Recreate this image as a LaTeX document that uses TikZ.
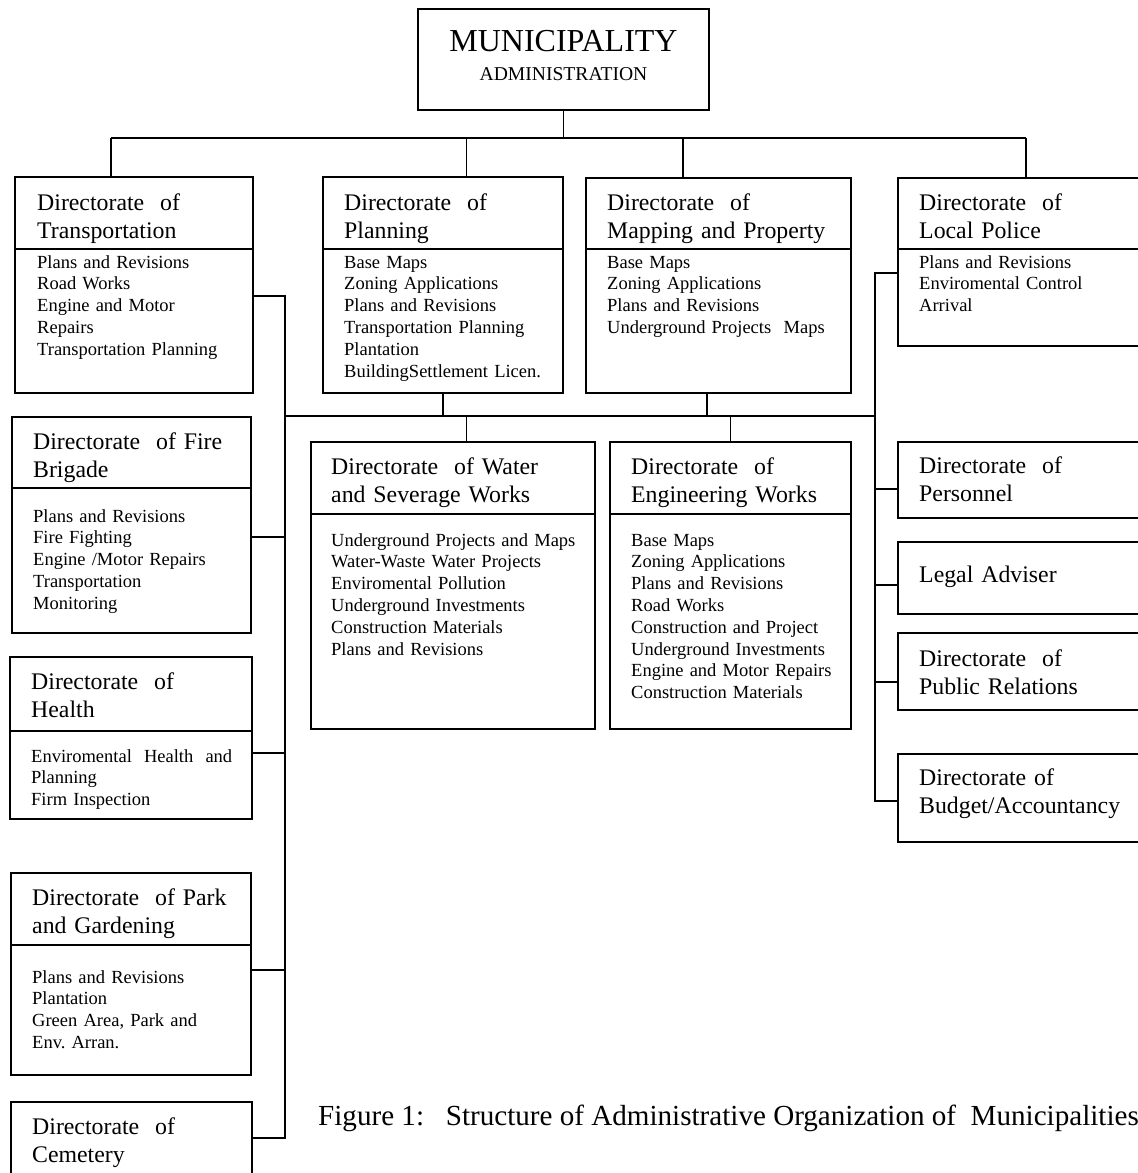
\documentclass[tikz,border=0pt]{standalone}
\usepackage{fontspec}
\setmainfont{Liberation Serif}
\usetikzlibrary{positioning}

\newcommand{\headfont}{\fontsize{23.8}{28}\selectfont}
\newcommand{\listfont}{\fontsize{18.5}{21.8}\selectfont}

\tikzset{
  orgbox/.style={draw, line width=1.8pt, inner sep=0pt, outer sep=0pt},
  headtext/.style={anchor=base west, align=left, text width=300pt, inner sep=0pt, font=\headfont},
  listtext/.style={anchor=base west, align=left, text width=300pt, inner sep=0pt, font=\listfont},
  link/.style={line width=1.8pt}
}

% box by its edges: name, left, top, right, bottom
\newcommand{\dirbox}[5]{%
  \node[orgbox, minimum width={#4-#2}, minimum height={#5-#3}] (#1) at ({(#2+#4)/2},{(#3+#5)/2}) {};}
% line under the box title
\newcommand{\divider}[2]{%
  \draw[link] ([yshift=-#2pt]#1.north west) -- ([yshift=-#2pt]#1.north east);}

\begin{document}
\begin{tikzpicture}[x=1pt, y=-1pt]
\useasboundingbox (0,0) rectangle (1138,1173);

% top
\dirbox{muni}{418}{9}{709}{110}
\node[anchor=base, inner sep=0pt, font=\fontsize{32}{38}\selectfont] (muniA) at ([yshift=-42pt]muni.north) {MUNICIPALITY};
\node[anchor=base, inner sep=0pt, font=\fontsize{19.6}{24}\selectfont] (muniB) at ([yshift=-71pt]muni.north) {ADMINISTRATION};

% first row
\dirbox{trans}{15}{177}{253}{393}
\dirbox{plan}{323}{177}{563}{393}
\dirbox{map}{586}{178}{851}{393}
\dirbox{police}{898}{178}{1141}{346}
\divider{trans}{72}
\divider{plan}{72}
\divider{map}{71}
\divider{police}{71}

% second row
\dirbox{water}{311}{442}{595}{729}
\dirbox{eng}{610}{442}{851}{729}
\divider{water}{72}
\divider{eng}{72}

% left column
\dirbox{fire}{12}{417}{251}{633}
\dirbox{health}{10}{657}{252}{819}
\dirbox{park}{11}{873}{251}{1075}
\dirbox{cem}{11}{1102}{252}{1185}
\divider{fire}{71}
\divider{health}{74}
\divider{park}{72}

% right column
\dirbox{pers}{898}{442}{1141}{518}
\dirbox{legal}{898}{542}{1141}{614}
\dirbox{pr}{898}{633}{1141}{710}
\dirbox{budget}{898}{754}{1141}{842}

% titles
\node[headtext] (muniT) at ([xshift=22pt,yshift=-33pt]trans.north west) {Directorate~ of\\Transportation};
\node[headtext] (planT) at ([xshift=21pt,yshift=-33pt]plan.north west) {Directorate~ of\\Planning};
\node[headtext] (mapT) at ([xshift=21pt,yshift=-32pt]map.north west) {Directorate~ of\\Mapping and Property};
\node[headtext] (policeT) at ([xshift=21pt,yshift=-32pt]police.north west) {Directorate~ of\\Local Police};
\node[headtext] (waterT) at ([xshift=20pt,yshift=-32pt]water.north west) {Directorate~ of Water\\and Severage Works};
\node[headtext] (engT) at ([xshift=21pt,yshift=-32pt]eng.north west) {Directorate~ of\\Engineering Works};
\node[headtext] (fireT) at ([xshift=21pt,yshift=-32pt]fire.north west) {Directorate~ of Fire\\Brigade};
\node[headtext] (healthT) at ([xshift=21pt,yshift=-32pt]health.north west) {Directorate~ of\\Health};
\node[headtext] (parkT) at ([xshift=21pt,yshift=-32pt]park.north west) {Directorate~ of Park\\and Gardening};
\node[headtext] (cemT) at ([xshift=21pt,yshift=-32pt]cem.north west) {Directorate~ of\\Cemetery};
\node[headtext] (persT) at ([xshift=21pt,yshift=-31pt]pers.north west) {Directorate~ of\\Personnel};
\node[headtext] (legalT) at ([xshift=21pt,yshift=-40pt]legal.north west) {Legal Adviser};
\node[headtext] (prT) at ([xshift=21pt,yshift=-33pt]pr.north west) {Directorate~ of\\Public Relations};
\node[headtext] (budgetT) at ([xshift=21pt,yshift=-31pt]budget.north west) {Directorate of\\Budget/Accountancy};

% task lists
\node[listtext] (transL) at ([xshift=22pt,yshift=-91pt]trans.north west) {Plans and Revisions\\Road Works\\Engine and Motor\\Repairs\\Transportation Planning};
\node[listtext] (planL) at ([xshift=21pt,yshift=-91pt]plan.north west) {Base Maps\\Zoning Applications\\Plans and Revisions\\Transportation Planning\\Plantation\\BuildingSettlement Licen.};
\node[listtext] (mapL) at ([xshift=21pt,yshift=-90pt]map.north west) {Base Maps\\Zoning Applications\\Plans and Revisions\\Underground Projects~ Maps};
\node[listtext] (policeL) at ([xshift=21pt,yshift=-90pt]police.north west) {Plans and Revisions\\Enviromental Control\\Arrival};
\node[listtext] (waterL) at ([xshift=20pt,yshift=-104pt]water.north west) {Underground Projects and Maps\\Water-Waste Water Projects\\Enviromental Pollution\\Underground Investments\\Construction Materials\\Plans and Revisions};
\node[listtext] (engL) at ([xshift=21pt,yshift=-104pt]eng.north west) {Base Maps\\Zoning Applications\\Plans and Revisions\\Road Works\\Construction and Project\\Underground Investments\\Engine and Motor Repairs\\Construction Materials};
\node[listtext] (fireL) at ([xshift=21pt,yshift=-105pt]fire.north west) {Plans and Revisions\\Fire Fighting\\Engine /Motor Repairs\\Transportation\\Monitoring};
\node[listtext] (healthL) at ([xshift=21pt,yshift=-105pt]health.north west) {\hbox to 201pt{Enviromental\hfill Health\hfill and}\\Planning\\Firm Inspection};
\node[listtext] (parkL) at ([xshift=21pt,yshift=-110pt]park.north west) {Plans and Revisions\\Plantation\\Green Area, Park and\\Env.\ Arran.};

% top bus
\coordinate (tTrans) at (111,138);
\coordinate (tPlan) at (466.5,138);
\coordinate (tMap) at (683,138);
\coordinate (tPol) at (1026,138);
\draw[link] (muni.south) -- (muni.south |- tPlan);
\draw[link] (tTrans) -- (tPol);
\foreach \j/\b in {tTrans/trans, tPlan/plan, tMap/map, tPol/police}
  \draw[link] (\j) -- (\j |- \b.north);

% left spine
\coordinate (lTrans) at (285,296);
\coordinate (lFire) at (285,537);
\coordinate (lHealth) at (285,753);
\coordinate (lPark) at (285,970);
\coordinate (lCem) at (285,1138);
\draw[link] (lTrans -| trans.east) -- (lTrans) -- (lCem) -- (lCem -| cem.east);
\foreach \j/\b in {lFire/fire, lHealth/health, lPark/park}
  \draw[link] (\j) -- (\j -| \b.east);

% middle bus
\coordinate (mL) at (285,416);
\coordinate (mR) at (875,416);
\coordinate (mMap) at (707,416);
\coordinate (mWater) at (466.5,416);
\draw[link] (mL) -- (mR);
\draw[link] (plan.south) -- (plan.south |- mL);
\draw[link] (mMap) -- (mMap |- map.south);
\draw[link] (mWater) -- (mWater |- water.north);
\draw[link] (eng.north) -- (eng.north |- mL);

% right spine
\coordinate (rPol) at (875,273);
\coordinate (rPers) at (875,489);
\coordinate (rLegal) at (875,585);
\coordinate (rPr) at (875,682);
\coordinate (rBud) at (875,801);
\draw[link] (rPol -| police.west) -- (rPol) -- (rBud) -- (rBud -| budget.west);
\foreach \j/\b in {rPers/pers, rLegal/legal, rPr/pr}
  \draw[link] (\j) -- (\j -| \b.west);

% caption
\node[anchor=base west, inner sep=0pt, font=\fontsize{29.1}{34}\selectfont] (caption) at (318,1125) {Figure 1:\ \ \ Structure of Administrative Organization of\ \ Municipalities};
\end{tikzpicture}
\end{document}
